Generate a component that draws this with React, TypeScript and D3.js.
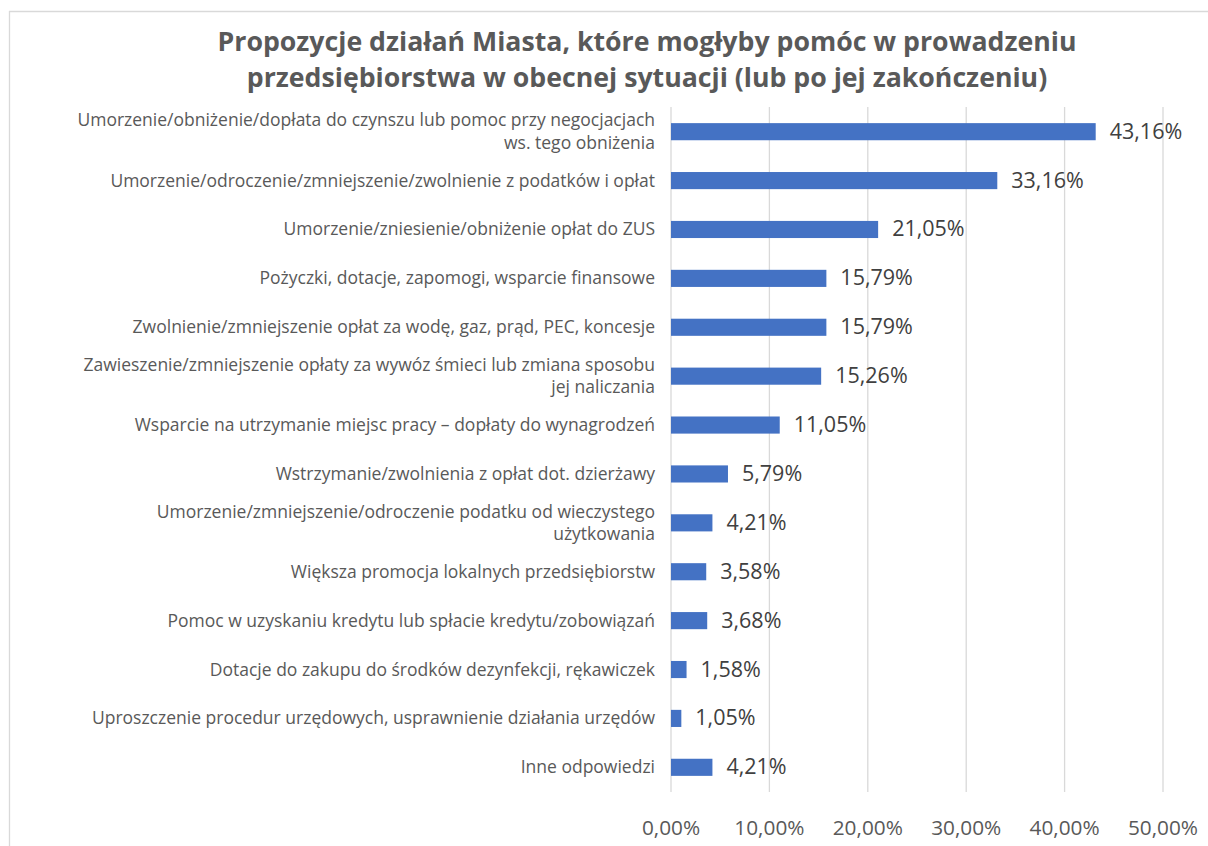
import React from "react";
import * as d3 from "d3";

const categories: string[][] = [
  ["Umorzenie/obniżenie/dopłata do czynszu lub pomoc przy negocjacjach", "ws. tego obniżenia"],
  ["Umorzenie/odroczenie/zmniejszenie/zwolnienie z podatków i opłat"],
  ["Umorzenie/zniesienie/obniżenie opłat do ZUS"],
  ["Pożyczki, dotacje, zapomogi, wsparcie finansowe"],
  ["Zwolnienie/zmniejszenie opłat za wodę, gaz, prąd, PEC, koncesje"],
  ["Zawieszenie/zmniejszenie opłaty za wywóz śmieci lub zmiana sposobu", "jej naliczania"],
  ["Wsparcie na utrzymanie miejsc pracy – dopłaty do wynagrodzeń"],
  ["Wstrzymanie/zwolnienia z opłat dot. dzierżawy"],
  ["Umorzenie/zmniejszenie/odroczenie podatku od wieczystego", "użytkowania"],
  ["Większa promocja lokalnych przedsiębiorstw"],
  ["Pomoc w uzyskaniu kredytu lub spłacie kredytu/zobowiązań"],
  ["Dotacje do zakupu do środków dezynfekcji, rękawiczek"],
  ["Uproszczenie procedur urzędowych, usprawnienie działania urzędów"],
  ["Inne odpowiedzi"],
];
const values: number[] = [43.16, 33.16, 21.05, 15.79, 15.79, 15.26, 11.05, 5.79, 4.21, 3.58, 3.68, 1.58, 1.05, 4.21];
const valueLabels: string[] = ["43,16%", "33,16%", "21,05%", "15,79%", "15,79%", "15,26%", "11,05%", "5,79%", "4,21%", "3,58%", "3,68%", "1,58%", "1,05%", "4,21%"];
const ticks: number[] = [0, 10, 20, 30, 40, 50];
const tickLabels: string[] = ["0,00%", "10,00%", "20,00%", "30,00%", "40,00%", "50,00%"];
const titleLines: string[] = [
  "Propozycje działań Miasta, które mogłyby pomóc w prowadzeniu",
  "przedsiębiorstwa w obecnej sytuacji (lub po jej zakończeniu)",
];

const W = 1208;
const H = 846;
const FONT = "'Open Sans', 'Noto Sans', sans-serif";

export default function App() {
  const x = d3.scaleLinear().domain([0, 50]).range([671, 1163]);
  const idx = categories.map((_, i) => String(i));
  const y = d3.scaleBand().domain(idx).range([107, 792]).paddingInner(0.65).paddingOuter(0.33);
  return (
    <svg width={W} height={H} style={{ position: "absolute", left: 0, top: 0, background: "#fff" }} fontFamily={FONT}>
      <rect x={0} y={0} width={W} height={H} fill="#fff" />
      <line x1={9.5} y1={11} x2={9.5} y2={H} stroke="#d9d9d9" strokeWidth={1.3} />
      <line x1={9} y1={11.5} x2={W} y2={11.5} stroke="#d9d9d9" strokeWidth={1.3} />
      {titleLines.map((t, i) => (
        <text key={i} x={647} y={51 + i * 36} textAnchor="middle" fontSize={26.7} fontWeight={700} fill="#595959">{t}</text>
      ))}
      {ticks.map((t, i) => (
        <g key={i}>
          <line x1={x(t)} x2={x(t)} y1={107} y2={792} stroke="#d9d9d9" strokeWidth={1.3} />
          <text x={x(t)} y={835} textAnchor="middle" fontSize={20.8} fill="#595959">{tickLabels[i]}</text>
        </g>
      ))}
      {values.map((v, i) => {
        const by = y(String(i))!;
        const bw = y.bandwidth();
        const cy = by + bw / 2;
        const lines = categories[i];
        return (
          <g key={i}>
            <rect x={x(0)} y={by} width={x(v) - x(0)} height={bw} fill="#4472c4" />
            <text x={x(v) + 14} y={cy + 7} fontSize={21.5} fill="#404040">{valueLabels[i]}</text>
            {lines.map((l, j) => (
              <text key={j} x={655} y={cy + 6 + (j - (lines.length - 1) / 2) * 22.5} textAnchor="end" fontSize={17.5} fill="#595959">{l}</text>
            ))}
          </g>
        );
      })}
    </svg>
  );
}
